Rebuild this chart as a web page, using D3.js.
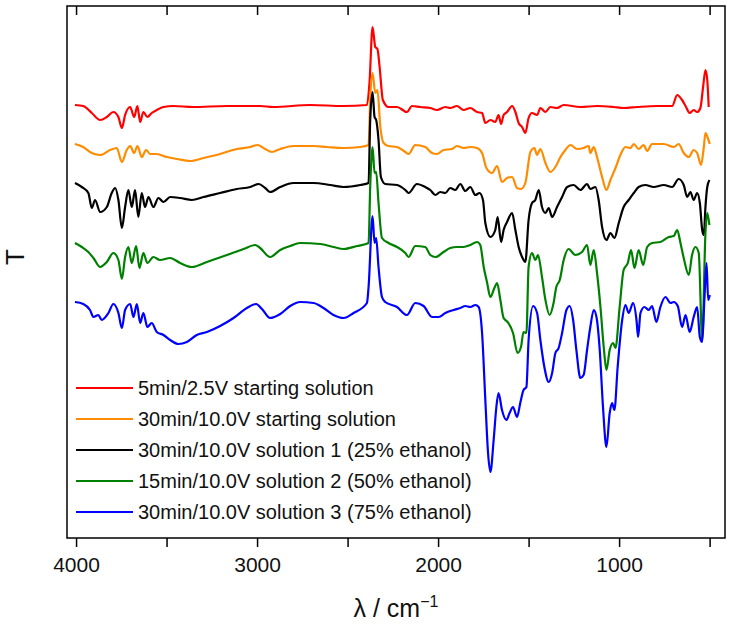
<!DOCTYPE html>
<html><head><meta charset="utf-8">
<script src="https://cdn.jsdelivr.net/npm/d3@7"></script>
<style>body{margin:0;background:#fff}svg{display:block}</style>
</head><body>
<svg id="chart" width="734" height="628"></svg>
<script>
// ---------- data ----------
const seriesNames = [
  "5min/2.5V starting solution",
  "30min/10.0V starting solution",
  "30min/10.0V solution 1 (25% ethanol)",
  "15min/10.0V solution 2 (50% ethanol)",
  "30min/10.0V solution 3 (75% ethanol)"
];
const seriesColors = ["#ff0000", "#ff8c00", "#000000", "#008000", "#0000ff"];

const redWn = [4006,3960,3913,3867,3830,3794,3766,3747,3729,3701,3679,3661,3646,3628,3606,3582,3554,3517,3462,3353,3167,2983,2911,2706,2524,2393,2379,2362,2347,2335,2323,2305,2274,2227,2172,2144,2098,2043,2006,1960,1933,1896,1859,1822,1785,1757,1739,1711,1684,1666,1652,1638,1619,1591,1573,1555,1536,1518,1500,1481,1453,1435,1407,1380,1343,1306,1214,1122,1030,975,900,790,707,679,652,633,610,588,569,551,536,523,513,505];
const redT = [433,432,425,418,421,426,421,410,423,431,421,432,416,426,421,425,428,431,432,431,432,432,431,433,432,433,455,511,491,489,471,438,431,431,426,432,431,430,428,431,430,432,428,430,426,425,415,418,416,423,414,423,426,432,426,415,411,405,420,425,423,430,426,431,430,433,431,432,431,430,431,432,432,443,438,432,425,428,426,430,451,468,458,431];

const orangeWn = [4006,3961,3913,3867,3812,3775,3747,3720,3701,3679,3661,3637,3613,3591,3554,3499,3443,3370,3296,3204,3112,3038,2998,2955,2918,2872,2799,2688,2614,2522,2430,2384,2375,2362,2347,2335,2319,2301,2274,2227,2181,2163,2126,2071,2034,2006,1970,1923,1896,1859,1822,1785,1757,1733,1702,1674,1647,1619,1591,1564,1542,1518,1490,1468,1453,1435,1407,1380,1352,1324,1297,1269,1232,1196,1168,1159,1140,1122,1094,1070,1048,1020,993,965,937,919,892,864,845,818,753,698,671,643,615,588,569,547,532,523,510,499];
const orangeT = [394,391,385,383,388,390,376,388,392,385,392,381,388,384,384,381,379,377,380,384,389,391,393,389,386,389,392,392,391,390,391,393,438,465,445,448,411,395,392,391,386,384,393,391,385,384,388,389,392,390,391,390,385,370,365,372,356,360,361,350,349,355,386,390,383,389,375,366,371,381,388,393,389,390,392,385,391,381,361,348,358,370,383,391,390,394,389,393,387,394,394,391,394,385,381,388,385,373,391,405,400,394];

const blackWn = [4006,3968,3932,3913,3895,3867,3830,3803,3784,3766,3747,3729,3711,3692,3674,3656,3637,3619,3600,3573,3545,3517,3480,3425,3360,3296,3204,3112,3038,2992,2955,2928,2872,2799,2688,2596,2522,2430,2384,2375,2362,2351,2342,2329,2316,2292,2227,2181,2163,2117,2071,2043,2015,1988,1960,1933,1905,1877,1850,1822,1794,1771,1752,1739,1711,1684,1671,1652,1638,1619,1591,1573,1555,1536,1518,1500,1481,1463,1444,1426,1407,1389,1370,1343,1315,1287,1251,1214,1177,1159,1131,1113,1094,1070,1048,1026,1002,975,947,919,892,855,809,753,707,671,643,624,606,588,569,554,541,532,523,513,501];
const blackT = [355,351,345,330,338,326,331,345,350,338,310,331,348,331,348,321,345,331,341,331,340,336,341,340,338,341,345,349,351,354,350,346,351,355,355,353,351,353,355,418,446,421,418,398,361,354,353,348,345,354,351,348,343,346,345,350,348,354,347,351,343,345,338,315,301,308,321,296,308,316,325,308,291,281,276,318,335,338,348,331,325,330,321,331,341,351,353,348,354,349,351,338,311,298,305,300,315,331,338,345,351,353,351,353,351,359,353,341,346,338,345,335,308,303,331,351,358];

const greenWn = [4006,3968,3932,3904,3867,3830,3794,3766,3747,3729,3711,3692,3668,3650,3628,3606,3573,3536,3480,3425,3360,3277,3167,3075,3010,2983,2928,2872,2817,2762,2651,2578,2522,2448,2384,2375,2362,2351,2342,2329,2310,2274,2227,2181,2163,2126,2071,2043,2015,1970,1933,1896,1859,1822,1785,1767,1748,1730,1711,1689,1674,1656,1638,1616,1586,1561,1542,1528,1512,1500,1481,1463,1448,1426,1407,1384,1362,1347,1328,1306,1279,1242,1205,1177,1159,1140,1122,1103,1085,1070,1052,1033,1020,997,975,952,934,915,892,867,845,818,772,726,698,679,661,643,615,597,578,560,541,523,513,501];
const greenT = [295,291,286,280,271,276,285,278,259,281,291,275,292,270,285,275,281,278,280,275,271,276,283,289,293,290,281,288,292,295,294,291,289,292,295,351,391,365,366,335,300,295,291,285,281,292,291,283,281,286,290,291,291,293,296,293,271,256,241,250,255,238,220,216,205,185,191,206,205,271,285,278,283,261,238,223,235,251,258,278,289,283,286,293,273,288,265,231,191,168,188,195,190,231,268,275,288,270,288,273,291,295,296,301,302,308,295,280,263,283,291,285,198,305,325,313];

const blueWn = [4006,3960,3923,3904,3877,3858,3821,3794,3766,3747,3729,3701,3683,3664,3646,3628,3606,3582,3554,3517,3480,3434,3388,3333,3277,3204,3130,3056,3005,2973,2928,2872,2817,2762,2688,2633,2578,2522,2467,2393,2384,2362,2351,2342,2329,2310,2292,2227,2172,2126,2080,2034,1997,1960,1914,1877,1850,1822,1794,1776,1757,1739,1724,1711,1693,1678,1666,1647,1623,1605,1586,1564,1546,1528,1512,1500,1475,1453,1435,1413,1389,1370,1352,1334,1315,1291,1273,1254,1236,1214,1196,1177,1159,1140,1125,1107,1089,1070,1052,1039,1026,1008,983,965,947,923,904,895,882,860,836,818,794,772,744,716,698,676,652,633,610,588,569,554,541,529,517,508,499];
const blueT = [236,234,228,221,223,218,225,234,225,210,228,234,221,234,215,225,211,215,206,203,198,194,196,203,206,212,220,230,234,229,220,224,232,236,235,230,223,220,225,235,251,322,295,300,271,241,236,231,223,235,232,221,221,225,228,230,232,231,233,231,205,138,85,66,98,131,145,128,118,125,131,121,135,148,151,198,232,225,198,171,156,165,185,190,205,228,232,218,188,160,163,188,211,228,221,188,131,91,125,135,128,171,218,233,225,235,218,201,225,231,228,232,216,231,241,235,236,232,211,223,206,221,231,201,196,238,275,238,243];

const xMajorTicks = [4000, 3000, 2000, 1000];
const xMinorTicks = [3500, 2500, 1500, 500];

const series = [
  {wn: redWn, t: redT},
  {wn: orangeWn, t: orangeT},
  {wn: blackWn, t: blackT},
  {wn: greenWn, t: greenT},
  {wn: blueWn, t: blueT}
];

// ---------- layout ----------
const box = {left: 67, right: 725, top: 6, bottom: 538};
const svg = d3.select("#chart");
const x = d3.scaleLinear().domain([4050, 415]).range([box.left, box.right]);
const y = d3.scaleLinear().domain([0, 532]).range([box.bottom, box.top]);

const font = "Arial, 'Liberation Sans', sans-serif";

// curves
const line = d3.line()
  .x(d => x(d[0]))
  .y(d => y(d[1]))
  .curve(d3.curveMonotoneX);

series.forEach((s, i) => {
  const pts = s.wn.map((w, k) => [w, s.t[k]]);
  svg.append("path")
    .attr("d", line(pts))
    .attr("fill", "none")
    .attr("stroke", seriesColors[i])
    .attr("stroke-width", 2.2)
    .attr("stroke-linejoin", "round");
});

// axes
const gB = svg.append("g").attr("transform", `translate(0,${box.bottom})`)
  .call(d3.axisBottom(x).tickValues(xMajorTicks).tickSize(9).tickPadding(10).tickFormat(d3.format("d")));
const gBm = svg.append("g").attr("transform", `translate(0,${box.bottom})`)
  .call(d3.axisBottom(x).tickValues(xMinorTicks).tickSize(9).tickFormat(""));
const gT = svg.append("g").attr("transform", `translate(0,${box.top})`)
  .call(d3.axisTop(x).tickValues(xMajorTicks.concat(xMinorTicks)).tickSize(-9).tickFormat(""));
[gB, gBm, gT].forEach(g => {
  g.select(".domain").remove();
  g.selectAll(".tick line").attr("stroke", "#000").attr("stroke-width", 1.5);
  g.selectAll("text").attr("font-family", font).attr("font-size", 21).attr("fill", "#111");
});

svg.append("rect")
  .attr("x", box.left).attr("y", box.top)
  .attr("width", box.right - box.left).attr("height", box.bottom - box.top)
  .attr("fill", "none").attr("stroke", "#000").attr("stroke-width", 1.5);

// axis titles
const xt = svg.append("text")
  .attr("x", (box.left + box.right) / 2).attr("y", 617)
  .attr("text-anchor", "middle")
  .attr("font-family", font).attr("font-size", 25).attr("fill", "#111");
xt.append("tspan").text("λ / cm");
xt.append("tspan").text("−1").attr("font-size", 16).attr("dy", -10);

svg.append("text")
  .attr("transform", `translate(24,257) rotate(-90)`)
  .attr("text-anchor", "middle")
  .attr("font-family", font).attr("font-size", 26).attr("fill", "#111")
  .text("T");

// legend
const legendY0 = 388, legendDy = 31;
seriesNames.forEach((name, i) => {
  const ly = legendY0 + i * legendDy;
  svg.append("line")
    .attr("x1", 76).attr("x2", 133).attr("y1", ly).attr("y2", ly)
    .attr("stroke", seriesColors[i]).attr("stroke-width", 2.2);
  svg.append("text")
    .attr("x", 138).attr("y", ly).attr("dy", "0.35em")
    .attr("font-family", font).attr("font-size", 20).attr("fill", "#111")
    .text(name);
});
</script>
</body></html>
